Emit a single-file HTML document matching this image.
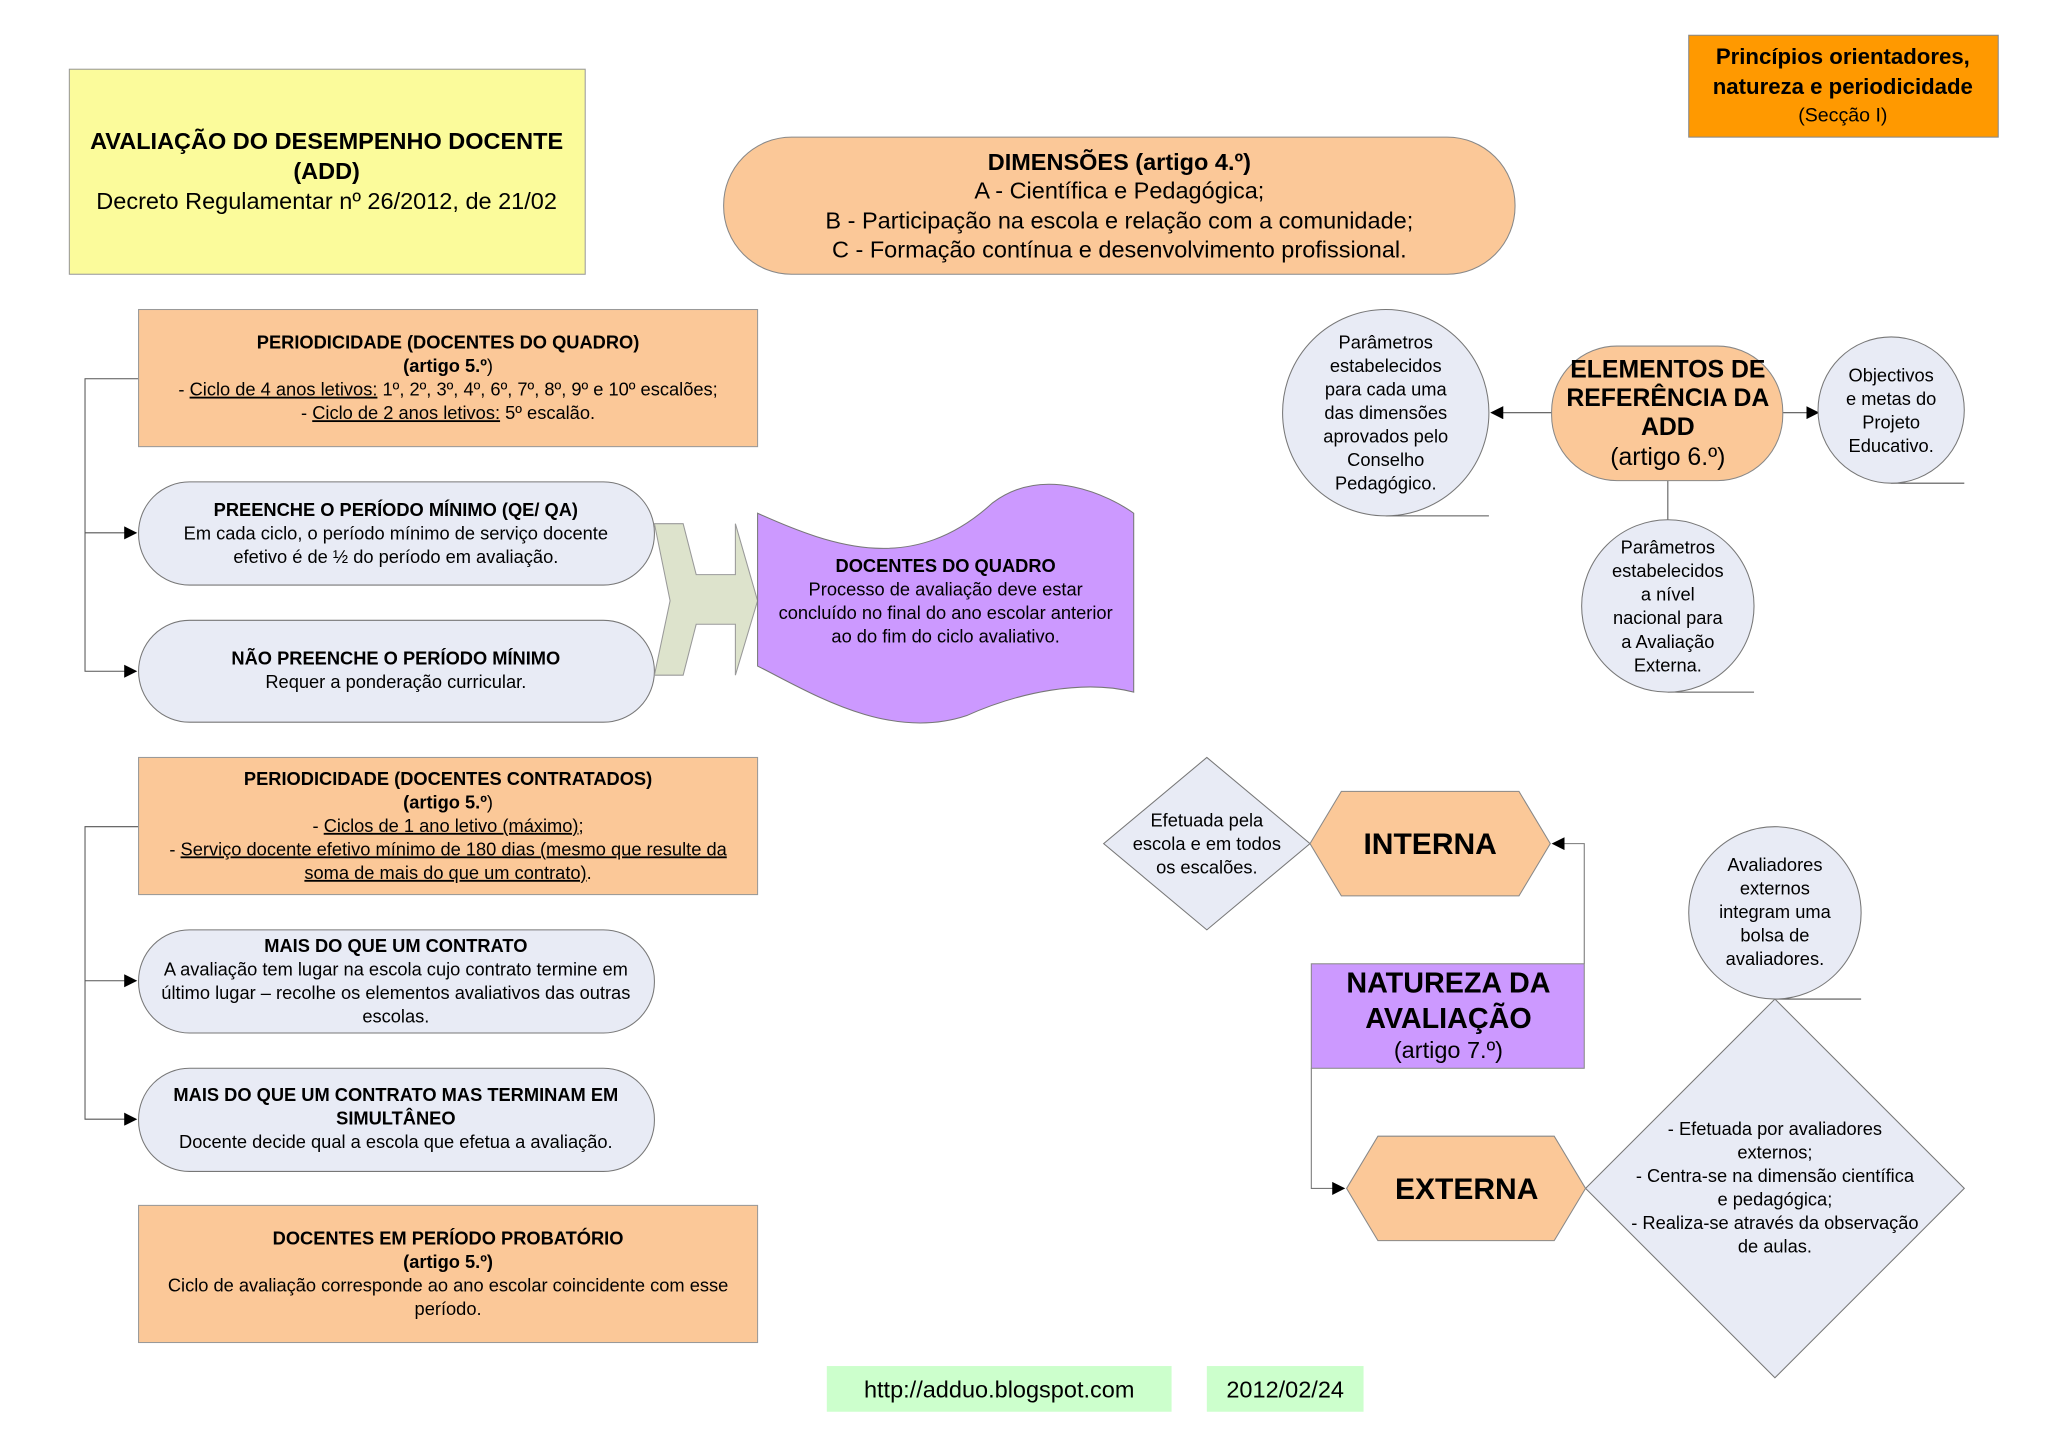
<!DOCTYPE html>
<html><head><meta charset="utf-8"><style>
html,body{margin:0;padding:0;background:#fff;}
svg{display:block;}
text{font-family:"Liberation Sans",Arial,sans-serif;fill:#000;}
.b{font-weight:bold;}
</style></head><body>
<svg width="2048" height="1447" viewBox="0 0 1568 1108" xmlns="http://www.w3.org/2000/svg">
<defs>
<marker id="ar" markerWidth="10" markerHeight="10" refX="9" refY="5" orient="auto" markerUnits="userSpaceOnUse">
<path d="M0,0 L10,5 L0,10 Z" fill="#000"/></marker>
</defs>
<rect width="1568" height="1108" fill="#fff"/>

<!-- title box -->
<rect x="53" y="53" width="395" height="157" fill="#FBFB9B" stroke="#999" stroke-width="0.8"/>
<g text-anchor="middle" font-size="18">
<text x="250" y="114" class="b">AVALIAÇÃO DO DESEMPENHO DOCENTE</text>
<text x="250" y="137" class="b">(ADD)</text>
<text x="250" y="160">Decreto Regulamentar nº 26/2012, de 21/02</text>
</g>

<!-- top right -->
<rect x="1293" y="27" width="237" height="78" fill="#FF9900" stroke="#888" stroke-width="0.8"/>
<g text-anchor="middle">
<text x="1411" y="49" font-size="17" class="b">Princípios orientadores,</text>
<text x="1411" y="72" font-size="17" class="b">natureza e periodicidade</text>
<text x="1411" y="93" font-size="15">(Secção I)</text>
</g>

<!-- dimensões -->
<rect x="554" y="105" width="606" height="105" rx="52" fill="#FBC898" stroke="#888" stroke-width="0.8"/>
<g text-anchor="middle" font-size="18">
<text x="857" y="130" class="b">DIMENSÕES (artigo 4.º)</text>
<text x="857" y="152">A - Científica e Pedagógica;</text>
<text x="857" y="175">B - Participação na escola e relação com a comunidade;</text>
<text x="857" y="197">C - Formação contínua e desenvolvimento profissional.</text>
</g>

<!-- left connectors -->
<g fill="none" stroke="#555" stroke-width="0.8">
<polyline points="106,290 65,290 65,408 104,408" marker-end="url(#ar)"/>
<polyline points="65,408 65,514 104,514" marker-end="url(#ar)"/>
<polyline points="106,633 65,633 65,751 104,751" marker-end="url(#ar)"/>
<polyline points="65,751 65,857 104,857" marker-end="url(#ar)"/>
</g>

<!-- periodicidade quadro -->
<rect x="106" y="237" width="474" height="105" fill="#FBC898" stroke="#999" stroke-width="0.8"/>
<g text-anchor="middle" font-size="14">
<text x="343" y="267" class="b">PERIODICIDADE (DOCENTES DO QUADRO)</text>
<text x="343" y="285"><tspan class="b">(artigo 5.º</tspan>)</text>
<text x="343" y="303">- <tspan text-decoration="underline">Ciclo de 4 anos letivos:</tspan> 1º, 2º, 3º, 4º, 6º, 7º, 8º, 9º e 10º escalões;</text>
<text x="343" y="321">- <tspan text-decoration="underline">Ciclo de 2 anos letivos:</tspan> 5º escalão.</text>
</g>

<!-- pills -->
<g fill="#E8EBF5" stroke="#777" stroke-width="0.8">
<rect x="106" y="369" width="395" height="79" rx="39"/>
<rect x="106" y="475" width="395" height="78" rx="39"/>
<rect x="106" y="712" width="395" height="79" rx="39"/>
<rect x="106" y="818" width="395" height="79" rx="39"/>
</g>
<g text-anchor="middle" font-size="14">
<text x="303" y="395" class="b">PREENCHE O PERÍODO MÍNIMO (QE/ QA)</text>
<text x="303" y="413">Em cada ciclo, o período mínimo de serviço docente</text>
<text x="303" y="431">efetivo é de ½ do período em avaliação.</text>
<text x="303" y="509" class="b">NÃO PREENCHE O PERÍODO MÍNIMO</text>
<text x="303" y="527">Requer a ponderação curricular.</text>
<text x="303" y="729" class="b">MAIS DO QUE UM CONTRATO</text>
<text x="303" y="747">A avaliação tem lugar na escola cujo contrato termine em</text>
<text x="303" y="765">último lugar – recolhe os elementos avaliativos das outras</text>
<text x="303" y="783">escolas.</text>
<text x="303" y="843" class="b">MAIS DO QUE UM CONTRATO MAS TERMINAM EM</text>
<text x="303" y="861" class="b">SIMULTÂNEO</text>
<text x="303" y="879">Docente decide qual a escola que efetua a avaliação.</text>
</g>

<!-- block arrow -->
<polygon points="501,401 523,401 533,440 563,440 563,401 580,460 563,517 563,478 533,478 523,517 501,517 513,460" fill="#DDE3CC" stroke="#999" stroke-width="0.8"/>

<!-- wave -->
<path d="M580,393 C640,420 700,440 760,385 C800,355 850,380 868,393 L868,530 C830,520 780,530 740,548 C680,568 620,530 580,510 Z" fill="#CC99FF" stroke="#777" stroke-width="0.8"/>
<g text-anchor="middle" font-size="14">
<text x="724" y="438" class="b">DOCENTES DO QUADRO</text>
<text x="724" y="456">Processo de avaliação deve estar</text>
<text x="724" y="474">concluído no final do ano escolar anterior</text>
<text x="724" y="492">ao do fim do ciclo avaliativo.</text>
</g>

<!-- periodicidade contratados -->
<rect x="106" y="580" width="474" height="105" fill="#FBC898" stroke="#999" stroke-width="0.8"/>
<g text-anchor="middle" font-size="14">
<text x="343" y="601" class="b">PERIODICIDADE (DOCENTES CONTRATADOS)</text>
<text x="343" y="619"><tspan class="b">(artigo 5.º</tspan>)</text>
<text x="343" y="637">- <tspan text-decoration="underline">Ciclos de 1 ano letivo (máximo)</tspan>;</text>
<text x="343" y="655">- <tspan text-decoration="underline">Serviço docente efetivo mínimo de 180 dias (mesmo que resulte da</tspan></text>
<text x="343" y="673"><tspan text-decoration="underline">soma de mais do que um contrato)</tspan>.</text>
</g>

<!-- probatório -->
<rect x="106" y="923" width="474" height="105" fill="#FBC898" stroke="#999" stroke-width="0.8"/>
<g text-anchor="middle" font-size="14">
<text x="343" y="953" class="b">DOCENTES EM PERÍODO PROBATÓRIO</text>
<text x="343" y="971" class="b">(artigo 5.º)</text>
<text x="343" y="989">Ciclo de avaliação corresponde ao ano escolar coincidente com esse</text>
<text x="343" y="1007">período.</text>
</g>

<!-- footer -->
<rect x="633" y="1046" width="264" height="35" fill="#CCFFCC"/>
<rect x="924" y="1046" width="120" height="35" fill="#CCFFCC"/>
<text x="765" y="1070" text-anchor="middle" font-size="18">http://adduo.blogspot.com</text>
<text x="984" y="1070" text-anchor="middle" font-size="18">2012/02/24</text>

<!-- elementos de referência -->
<g fill="none" stroke="#555" stroke-width="0.8">
<line x1="1188" y1="316" x2="1142" y2="316" marker-end="url(#ar)"/>
<line x1="1365" y1="316" x2="1392" y2="316" marker-end="url(#ar)"/>
<line x1="1277" y1="368" x2="1277" y2="398"/>
<line x1="1061" y1="395" x2="1140" y2="395"/>
<line x1="1448" y1="370" x2="1504" y2="370"/>
<line x1="1277" y1="530" x2="1343" y2="530"/>
<line x1="1359" y1="765" x2="1425" y2="765"/>
</g>
<rect x="1188" y="265" width="177" height="103" rx="50" fill="#FBC898" stroke="#888" stroke-width="0.8"/>
<g text-anchor="middle">
<text x="1277" y="289" font-size="19" class="b">ELEMENTOS DE</text>
<text x="1277" y="311" font-size="19" class="b">REFERÊNCIA DA</text>
<text x="1277" y="333" font-size="19" class="b">ADD</text>
<text x="1277" y="356" font-size="19">(artigo 6.º)</text>
</g>
<g fill="#E8EBF5" stroke="#777" stroke-width="0.8">
<ellipse cx="1061" cy="316" rx="79" ry="79"/>
<ellipse cx="1448" cy="314" rx="56" ry="56"/>
<ellipse cx="1277" cy="464" rx="66" ry="66"/>
<ellipse cx="1359" cy="699" rx="66" ry="66"/>
<polygon points="924,580 1003,646 924,712 845,646"/>
<polygon points="1359,765 1504,910 1359,1055 1214,910"/>
</g>
<g text-anchor="middle" font-size="14">
<text x="1061" y="267">Parâmetros</text>
<text x="1061" y="285">estabelecidos</text>
<text x="1061" y="303">para cada uma</text>
<text x="1061" y="321">das dimensões</text>
<text x="1061" y="339">aprovados pelo</text>
<text x="1061" y="357">Conselho</text>
<text x="1061" y="375">Pedagógico.</text>
<text x="1448" y="292">Objectivos</text>
<text x="1448" y="310">e metas do</text>
<text x="1448" y="328">Projeto</text>
<text x="1448" y="346">Educativo.</text>
<text x="1277" y="424">Parâmetros</text>
<text x="1277" y="442">estabelecidos</text>
<text x="1277" y="460">a nível</text>
<text x="1277" y="478">nacional para</text>
<text x="1277" y="496">a Avaliação</text>
<text x="1277" y="514">Externa.</text>
<text x="1359" y="667">Avaliadores</text>
<text x="1359" y="685">externos</text>
<text x="1359" y="703">integram uma</text>
<text x="1359" y="721">bolsa de</text>
<text x="1359" y="739">avaliadores.</text>
<text x="924" y="633">Efetuada pela</text>
<text x="924" y="651">escola e em todos</text>
<text x="924" y="669">os escalões.</text>
<text x="1359" y="869">- Efetuada por avaliadores</text>
<text x="1359" y="887">externos;</text>
<text x="1359" y="905">- Centra-se na dimensão científica</text>
<text x="1359" y="923">e pedagógica;</text>
<text x="1359" y="941">- Realiza-se através da observação</text>
<text x="1359" y="959">de aulas.</text>
</g>

<!-- natureza -->
<g fill="none" stroke="#777" stroke-width="0.8">
<polyline points="1213,738 1213,646 1189,646" marker-end="url(#ar)"/>
<polyline points="1004,818 1004,910 1029,910" marker-end="url(#ar)"/>
</g>
<polygon points="1003,646 1027,606 1163,606 1187,646 1163,686 1027,686" fill="#FBC898" stroke="#888" stroke-width="0.8"/>
<polygon points="1031,910 1055,870 1190,870 1214,910 1190,950 1055,950" fill="#FBC898" stroke="#888" stroke-width="0.8"/>
<text x="1095" y="654" text-anchor="middle" font-size="23" class="b">INTERNA</text>
<text x="1123" y="918" text-anchor="middle" font-size="23" class="b">EXTERNA</text>
<rect x="1004" y="738" width="209" height="80" fill="#CC99FF" stroke="#888" stroke-width="0.8"/>
<g text-anchor="middle">
<text x="1109" y="760" font-size="22" class="b">NATUREZA DA</text>
<text x="1109" y="787" font-size="22" class="b">AVALIAÇÃO</text>
<text x="1109" y="810" font-size="18">(artigo 7.º)</text>
</g>
</svg>
</body></html>
